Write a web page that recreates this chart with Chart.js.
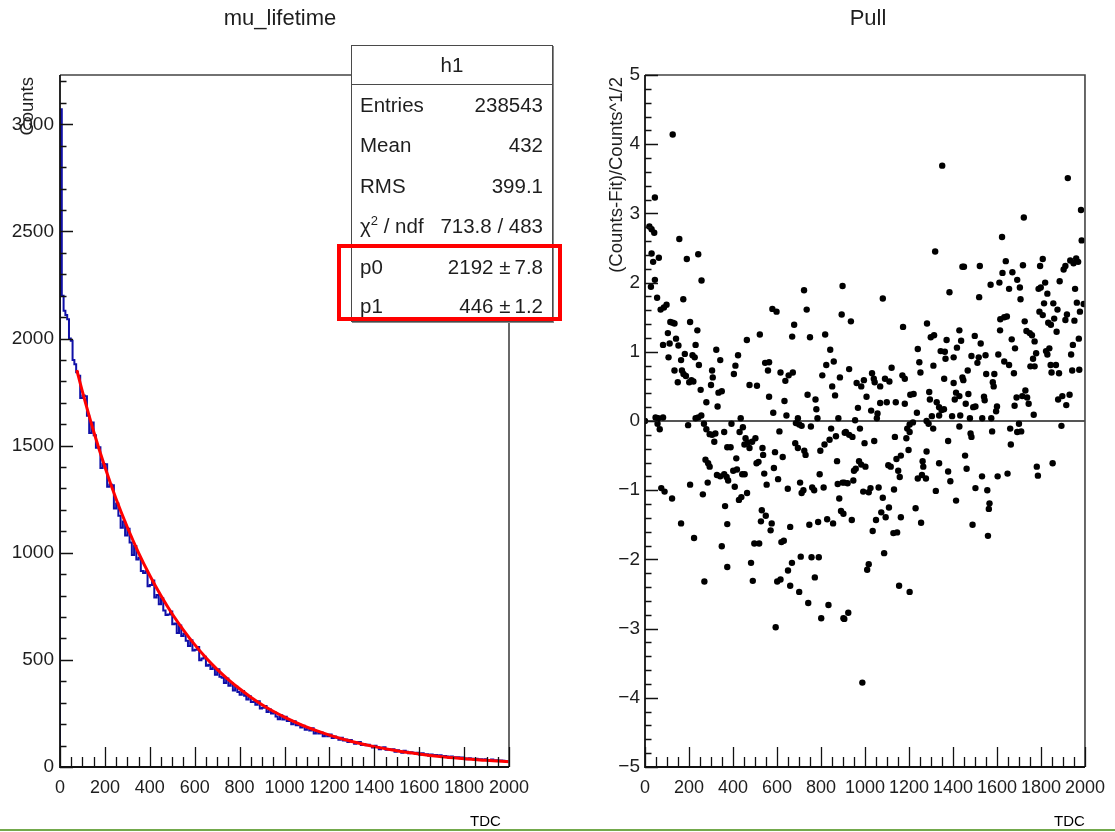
<!DOCTYPE html>
<html>
<head>
<meta charset="utf-8">
<script src="https://cdn.jsdelivr.net/npm/chart.js@4.4.0/dist/chart.umd.min.js"></script>
<style>
html,body{margin:0;padding:0;background:#fff;}
body{width:1115px;height:832px;position:relative;overflow:hidden;font-family:"Liberation Sans",Arial,Helvetica,sans-serif;color:#1e1e1e;}
canvas{position:absolute;top:0;}
#cL{left:0;}
#cR{left:560px;}
.t{position:absolute;white-space:nowrap;}
.title{font-size:22px;line-height:24px;top:6px;text-align:center;}
.ytitle{font-size:18.5px;line-height:20px;width:400px;text-align:right;transform-origin:0 0;transform:rotate(-90deg);}
#stats{position:absolute;left:351px;top:45px;width:202px;height:277px;box-sizing:border-box;border:1.5px solid #4a4a4a;background:#fff;box-shadow:1px 1px 0 #888;font-size:20.5px;}
#stats .hd{position:absolute;left:0;top:0;width:100%;height:38px;line-height:38px;text-align:center;border-bottom:1.5px solid #4a4a4a;}
#stats .row{position:absolute;left:8px;right:9px;height:40px;line-height:40px;}
#stats .row .l{position:absolute;left:0;}
#stats .row .r{position:absolute;right:0;}
#redbox{position:absolute;left:337px;top:244px;width:225px;height:77px;box-sizing:border-box;border:4px solid #ff0000;}
.tdc{position:absolute;font-size:15px;top:812px;color:#000;}
#green{position:absolute;left:0;top:829px;width:1115px;height:2px;background:#73a94c;}
</style>
</head>
<body>
<canvas id="cL" width="600" height="832" style="width:600px;height:832px"></canvas>
<canvas id="cR" width="555" height="832" style="width:555px;height:832px"></canvas>

<div class="t title" style="left:0;width:560px;">mu_lifetime</div>
<div class="t title" style="left:768px;width:200px;">Pull</div>
<div class="t ytitle" style="left:17px;top:477px;">Counts</div>
<div class="t ytitle" style="left:606px;top:477px;">(Counts-Fit)/Counts^1/2</div>

<div id="stats">
  <div class="hd">h1</div>
  <div class="row" style="top:39px"><span class="l">Entries</span><span class="r">238543</span></div>
  <div class="row" style="top:79px"><span class="l">Mean</span><span class="r">432</span></div>
  <div class="row" style="top:120px"><span class="l">RMS</span><span class="r">399.1</span></div>
  <div class="row" style="top:160px"><span class="l">&chi;<sup style="font-size:13px;line-height:0">2</sup> / ndf</span><span class="r">713.8 / 483</span></div>
  <div class="row" style="top:201px"><span class="l">p0</span><span class="r">2192 &plusmn;&thinsp;7.8</span></div>
  <div class="row" style="top:240px"><span class="l">p1</span><span class="r">446 &plusmn;&thinsp;1.2</span></div>
</div>
<div id="redbox"></div>

<div class="tdc" style="left:470px;">TDC</div>
<div class="tdc" style="left:1054px;">TDC</div>
<div id="green"></div>

<script>
// ---------------- DATA ----------------
// histogram: narrow bins (width 8) for the first 80 TDC, then width 10
const fineEdges = [0, 8, 16, 24, 32, 40, 48, 56, 64, 72];
const coarseBinStart = 80, coarseBinWidth = 10;
const histCounts = [
  1620, 3070, 2200, 2130, 2110, 2090, 2000, 1990, 1900, 1880,
  1842, 1826, 1722, 1734, 1731, 1639, 1559, 1608, 1549, 1490,
  1493, 1396, 1414, 1413, 1308, 1319, 1315, 1207, 1230, 1173,
  1117, 1146, 1081, 1112, 1048, 989, 1031, 969, 977, 915,
  905, 914, 844, 849, 870, 791, 803, 760, 788, 731,
  709, 712, 726, 666, 670, 625, 661, 611, 622, 589,
  565, 592, 544, 547, 560, 498, 506, 515, 473, 477,
  457, 466, 431, 456, 421, 417, 392, 413, 379, 391,
  357, 374, 350, 337, 355, 332, 315, 330, 303, 305,
  291, 307, 273, 277, 285, 257, 268, 250, 255, 236,
  223, 241, 222, 235, 215, 219, 200, 214, 195, 200,
  184, 193, 174, 182, 170, 181, 156, 167, 156, 161,
  144, 154, 144, 152, 135, 142, 136, 127, 136, 124,
  128, 117, 126, 117, 108, 116, 117, 103, 107, 101,
  104, 98, 91, 99, 93, 83, 90, 92, 80, 83,
  80, 83, 71, 78, 73, 67, 76, 71, 64, 69,
  67, 62, 66, 57, 64, 59, 60, 53, 58, 55,
  56, 52, 55, 48, 51, 49, 42, 49, 45, 46,
  45, 41, 44, 40, 36, 41, 39, 36, 38, 36,
  36, 33, 36, 31, 33, 35, 30, 32, 30, 30,
  29, 27
];

// fit curve
const fitX = [75, 100, 150, 200, 250, 300, 350, 400, 450, 500, 550, 600, 650, 700, 750, 800, 850, 900, 950, 1000, 1100, 1200, 1300, 1400, 1500, 1600, 1700, 1800, 1900, 2000];
const fitY = [1853, 1752, 1566, 1400, 1251, 1119, 1000, 894, 799, 714, 639, 571, 510, 456, 408, 365, 326, 291, 260, 233, 186, 149, 119, 95, 76, 61, 48, 39, 31, 25];

// pull points (TDC, pull)
const pullTDC = [
126,45,20,30,42,30,37,63,45,27,55,71,86,98,156,190,242,257,174,115,126,134,104,141,205,238,82,112,152,230,324,107,181,164,216,226,342,134,168,175,186,245,305,149,201,211,220,308,300,253,334,349,279,330,256,242,230,0,48,60,82,57,67,196,268,279,294,305,320,360,374,315,275,287,294,327,342,360,371,285,205,74,89,123,263,364,374,164,223,349,374,270,
723,579,598,735,678,522,669,750,463,819,423,411,404,546,564,559,616,638,653,672,475,509,842,824,858,806,886,894,898,851,864,739,775,779,784,564,634,583,643,695,879,435,393,445,430,611,686,701,712,754,846,868,908,457,467,487,502,475,452,389,534,537,591,626,683,695,724,730,797,816,839,415,507,516,873,586,401,418,378,442,453,542,605,553,794,705,720,712,760,769,812,649,876,898,408,427,438,464,883,531,549,527,576,571,660,747,787,828,855,891,902,497,519,620,631,708,757,790,482,668,650,772,490,601,616,660,701,742,834,801,902,594,
1351,1319,1443,1384,1081,936,1173,1282,1299,1314,1240,1371,1344,1363,1366,1403,1418,1429,1247,1252,1311,1437,928,1121,1032,962,983,995,1040,1044,1069,1091,1111,1170,1181,1206,1221,1007,1069,1099,1140,1181,968,1028,1057,1054,955,1236,1292,1295,1326,1337,1348,1359,1304,1280,1289,1337,1360,1403,1414,1408,1429,1443,1396,1433,1429,1310,1203,1192,1203,1218,913,943,928,977,998,1042,1136,1188,1378,1198,1280,1163,1143,1106,1117,973,983,1002,958,950,1151,1158,1262,1265,1337,1378,1388,1240,1259,1277,906,921,947,992,1017,1025,1062,1132,1322,1081,1414,940,1050,1074,1094,1109,1163,1230,1255,1035,1129,1146,1087,1017,1010,1155,1203,924,906,988,
1922,1982,1985,1722,1623,1450,1522,1640,1625,1670,1718,1808,1796,1903,1911,1933,1948,1960,1969,1571,1611,1692,1704,1655,1707,1519,1789,1799,1819,1829,1885,1955,1856,1875,1814,1793,1808,1963,1994,1977,1918,1911,1952,1615,1633,1645,1614,1726,1833,1845,1860,1871,1734,1749,1759,1771,1667,1682,1499,1526,1972,1945,1937,1778,1764,1823,1829,1838,1752,1771,1844,1868,1848,1882,1942,1974,1484,1517,1511,1548,1606,1633,1655,1467,1447,1551,1588,1581,1585,1677,1729,1689,1715,1737,1744,1767,1680,1600,1596,1541,1544,1502,1492,1470,1458,1477,1533,1574,1878,1897,1930,1915,1484,1480,1578,1660,1700,1692,1710,1663,1893,1455,1462,1853,1781,1786,1532,1603,1648,1502,1556,1566,1563,1489,1559
];
const pullValue = [
4.14,3.23,2.81,2.77,2.72,2.42,2.30,2.36,2.04,1.94,1.78,1.61,1.64,1.68,2.63,2.34,2.41,2.03,1.76,1.43,1.42,1.41,1.27,1.19,1.43,1.31,1.10,1.12,1.09,1.10,1.03,0.92,0.97,0.88,0.95,0.92,0.88,0.73,0.73,0.68,0.65,0.81,0.73,0.56,0.56,0.59,0.57,0.63,0.52,0.45,0.41,0.43,0.27,0.21,0.08,0.05,0.04,0.0,0.05,0.04,0.05,-0.04,-0.12,-0.06,-0.04,-0.12,-0.19,-0.20,-0.18,-0.16,-0.38,-0.30,-0.56,-0.61,-0.66,-0.78,-0.80,-0.77,-0.81,-0.89,-0.92,-0.97,-1.02,-1.12,-1.06,-1.23,-1.49,-1.48,-1.69,-1.81,-2.11,-2.32,
1.89,1.62,1.58,1.61,1.39,1.25,1.22,1.21,1.17,1.25,0.95,0.80,0.68,0.84,0.85,0.73,0.70,0.58,0.66,0.70,0.52,0.51,1.03,0.81,0.86,0.66,0.63,1.54,1.95,0.50,0.37,0.38,0.31,0.17,0.04,0.35,0.29,0.12,0.08,0.04,0.04,0.04,-0.04,-0.09,-0.16,-0.15,-0.03,-0.05,-0.07,-0.08,-0.11,-0.22,-0.17,-0.25,-0.31,-0.30,-0.25,-0.39,-0.34,-0.38,-0.39,-0.49,-0.45,-0.52,-0.32,-0.39,-0.43,-0.49,-0.43,-0.34,-0.27,-0.54,-0.61,-0.59,-0.58,-0.68,-0.72,-0.70,-0.86,-0.77,-0.77,-0.76,-0.84,-0.92,-0.77,-0.89,-1.00,-1.04,-0.96,-1.00,-0.96,-0.98,-0.91,-0.89,-0.95,-1.14,-1.10,-1.04,-1.12,-1.29,-1.37,-1.45,-1.48,-1.58,-1.53,-1.50,-1.46,-1.42,-1.48,-1.30,-1.34,-1.77,-1.77,-1.75,-1.73,-1.96,-1.97,-1.97,-2.05,-2.05,-2.16,-2.26,-2.31,-2.32,-2.29,-2.38,-2.47,-2.63,-2.66,-2.85,-2.85,-2.98,
3.69,2.45,2.23,1.86,1.77,1.44,1.36,1.41,1.21,1.24,1.04,1.17,1.01,1.00,0.90,0.92,1.06,1.31,0.85,0.70,0.80,1.16,0.75,0.77,0.69,0.55,0.50,0.59,0.61,0.56,0.50,0.61,0.57,0.66,0.61,0.38,0.39,0.35,0.26,0.27,0.27,0.25,0.19,0.15,0.11,0.04,0.01,0.12,0.42,0.31,0.27,0.20,0.16,0.17,0.07,0.00,-0.04,0.08,0.61,0.55,0.41,0.31,0.36,0.63,0.07,0.08,-0.08,-0.11,-0.05,-0.11,-0.16,-0.02,-0.16,-0.23,-0.20,-0.11,-0.32,-0.29,-0.23,-0.25,-0.29,-0.42,-0.44,-0.50,-0.55,-0.64,-0.66,-0.58,-0.63,-0.66,-0.69,-0.72,-0.72,-0.81,-0.58,-0.66,-0.61,-0.73,-0.87,-0.83,-0.78,-0.83,-0.89,-0.90,-0.86,-1.02,-1.03,-0.97,-0.96,-0.99,-1.01,-1.11,-1.15,-1.43,-1.43,-1.32,-1.39,-1.25,-1.39,-1.26,-1.47,-1.59,-1.62,-1.61,-1.91,-2.07,-2.15,-2.38,-2.47,-2.77,-2.86,-3.78,
3.51,3.05,2.61,2.94,2.66,2.23,2.24,2.31,2.14,2.15,2.25,2.34,2.24,2.19,2.24,2.32,2.28,2.35,2.30,1.97,2.00,2.04,1.93,1.91,1.76,1.79,1.91,1.93,2.00,1.84,2.02,1.91,1.70,1.61,1.70,1.58,1.53,1.71,1.69,1.58,1.54,1.46,1.45,1.47,1.50,1.51,1.31,1.44,1.42,1.39,1.48,1.29,1.30,1.27,1.24,1.15,1.18,1.05,1.23,1.12,1.19,1.10,0.96,0.98,0.90,1.01,0.96,1.05,0.79,0.79,0.81,0.81,0.70,0.69,0.73,0.74,0.94,0.92,0.84,0.95,0.96,0.86,0.81,0.73,0.59,0.68,0.68,0.56,0.50,0.69,0.44,0.34,0.36,0.34,0.25,0.09,0.22,0.21,0.14,0.35,0.30,0.21,0.20,0.39,0.25,0.04,0.04,0.04,0.31,0.36,0.38,0.23,-0.23,-0.18,-0.15,-0.11,-0.04,-0.16,-0.15,-0.34,-0.07,-0.50,-0.69,-0.61,-0.66,-0.79,-0.80,-0.80,-0.76,-0.97,-1.00,-1.19,-1.27,-1.50,-1.66
];

// axis ranges and tick labels
const tdcTicks = [0, 200, 400, 600, 800, 1000, 1200, 1400, 1600, 1800, 2000];
const countTicks = [0, 500, 1000, 1500, 2000, 2500, 3000];
const pullTicks = [-5, -4, -3, -2, -1, 0, 1, 2, 3, 4, 5];
const leftX = {min: 0, max: 2000, minor: 50, ticks: tdcTicks};
const leftY = {min: 0, max: 3230, minor: 100, tickTop: 3200, ticks: countTicks};
const rightY = {min: -5, max: 5, minor: 0.2, ticks: pullTicks};

// ---------------- BUILD ----------------
const histEdges = fineEdges.slice();
for (let i = 0; i < histCounts.length - fineEdges.length; i++) histEdges.push(coarseBinStart + i * coarseBinWidth);
const histPts = [{x: 0, y: 0}];
histCounts.forEach((c, i) => histPts.push({x: histEdges[i], y: c}));
histPts.push({x: leftX.max, y: histCounts[histCounts.length - 1]});

const fitPts = fitX.map((x, i) => ({x, y: fitY[i]}));
const pullPts = pullTDC.map((x, i) => ({x, y: pullValue[i]}));

const FONT = '"Liberation Sans", Arial, sans-serif';

// ROOT-like frame with inward tick marks
const rootFrame = {
  id: 'rootFrame',
  afterDraw(chart, args, o) {
    const {ctx, chartArea: a, scales: {x, y}} = chart;
    ctx.save();
    ctx.strokeStyle = '#444';
    ctx.lineWidth = 1.6;
    ctx.beginPath();
    ctx.moveTo(a.left, a.top); ctx.lineTo(a.right, a.top); ctx.lineTo(a.right, a.bottom);
    ctx.stroke();
    ctx.strokeStyle = '#111';
    ctx.lineWidth = 1.8;
    ctx.beginPath();
    ctx.moveTo(a.left, a.top); ctx.lineTo(a.left, a.bottom); ctx.lineTo(a.right, a.bottom);
    ctx.stroke();
    ctx.lineWidth = 1.3;
    ctx.beginPath();
    const nx = Math.round((o.xMax - o.xMin) / o.xMinor);
    for (let i = 0; i <= nx; i++) {
      const v = o.xMin + i * o.xMinor;
      const px = Math.round(x.getPixelForValue(v)) + 0.5;
      const len = (i % o.xRatio === 0) ? 20 : 10;
      ctx.moveTo(px, a.bottom); ctx.lineTo(px, a.bottom - len);
    }
    const ny = Math.round((o.yMax - o.yMin) / o.yMinor);
    for (let i = 0; i <= ny; i++) {
      const v = o.yMin + i * o.yMinor;
      const py = Math.round(y.getPixelForValue(v)) + 0.5;
      const len = (i % o.yRatio === 0) ? 13 : 6.5;
      ctx.moveTo(a.left, py); ctx.lineTo(a.left + len, py);
    }
    ctx.stroke();
    ctx.restore();
  }
};

function axisOpts(r, fit, pad, size) {
  return {
    type: 'linear', min: r.min, max: r.max,
    afterFit: fit,
    afterBuildTicks: s => { s.ticks = r.ticks.map(v => ({value: v})); },
    grid: {display: false, drawTicks: false},
    border: {display: false},
    ticks: {padding: pad, autoSkip: false, maxRotation: 0,
            color: '#1e1e1e', font: {family: FONT, size: size},
            callback: v => (v < 0 ? '\u2212' + String(-v) : String(v))}
  };
}

new Chart(document.getElementById('cL'), {
  type: 'line',
  data: {datasets: [
    {data: fitPts, borderColor: '#ff0000', borderWidth: 3, pointRadius: 0, cubicInterpolationMode: 'monotone', fill: false},
    {data: histPts, borderColor: '#1010a8', borderWidth: 2, pointRadius: 0, stepped: 'after', fill: false}
  ]},
  options: {
    responsive: false, animation: false, events: [],
    layout: {padding: {left: 0, top: 75, right: 91, bottom: 0}},
    plugins: {legend: {display: false}, tooltip: {enabled: false},
      rootFrame: {xMin: 0, xMax: 2000, xMinor: leftX.minor, xRatio: 4, yMin: 0, yMax: leftY.tickTop, yMinor: leftY.minor, yRatio: 5}},
    scales: {
      x: axisOpts(leftX, s => { s.height = 65; }, 10, 18),
      y: axisOpts(leftY, s => { s.width = 60; }, 6, 19)
    }
  },
  plugins: [rootFrame]
});

new Chart(document.getElementById('cR'), {
  type: 'scatter',
  data: {datasets: [
    {data: pullPts, pointRadius: 3.2, pointBackgroundColor: '#000', pointBorderWidth: 0, showLine: false},
    {data: [{x: 0, y: 0}, {x: 2000, y: 0}], showLine: true, borderColor: '#555', borderWidth: 2, pointRadius: 0}
  ]},
  options: {
    responsive: false, animation: false, events: [],
    layout: {padding: {left: 0, top: 75, right: 21, bottom: 0}},
    plugins: {legend: {display: false}, tooltip: {enabled: false},
      rootFrame: {xMin: 0, xMax: 2000, xMinor: leftX.minor, xRatio: 4, yMin: rightY.min, yMax: rightY.max, yMinor: rightY.minor, yRatio: 5}},
    scales: {
      x: axisOpts(leftX, s => { s.height = 65; }, 10, 18),
      y: axisOpts(rightY, s => { s.width = 85; }, 5, 19)
    }
  },
  plugins: [rootFrame]
});
</script>
</body>
</html>
